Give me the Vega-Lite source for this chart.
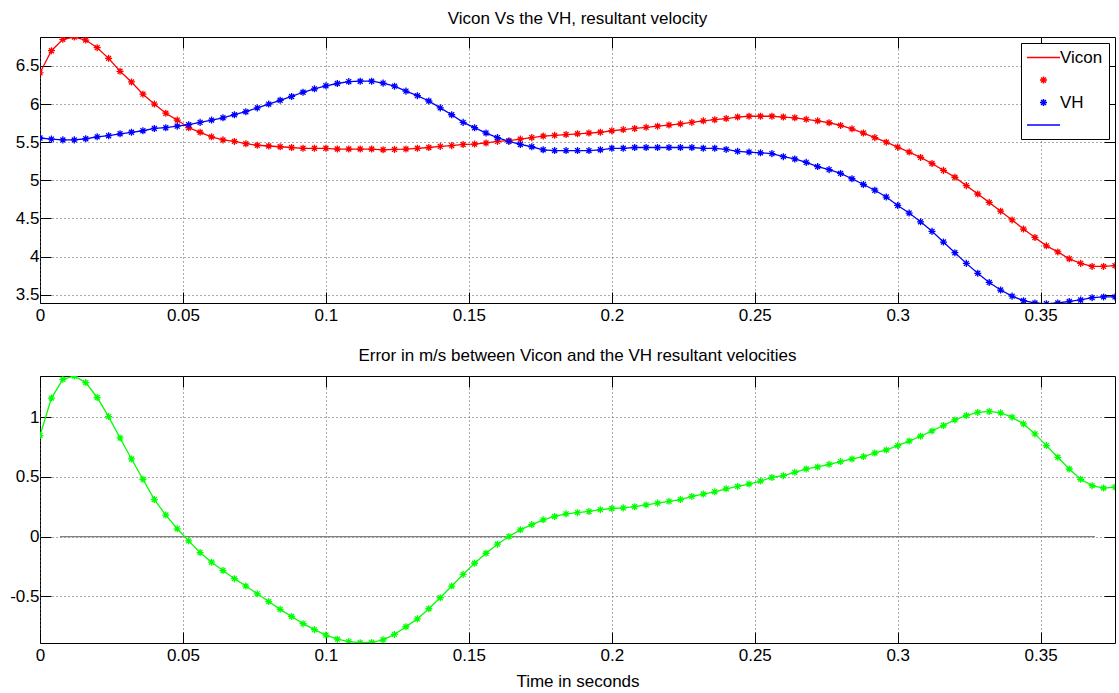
{
  "$schema": "https://vega.github.io/schema/vega-lite/v6.json",
  "padding": {"left": 9, "top": 9, "right": 2, "bottom": 2},
  "background": "white",
  "datasets": {
    "d": [
      {"t":0.000,"vicon":6.41,"vh":5.555,"err":0.846},
      {"t":0.004,"vicon":6.70,"vh":5.54,"err":1.16},
      {"t":0.008,"vicon":6.85,"vh":5.53,"err":1.317},
      {"t":0.012,"vicon":6.88,"vh":5.53,"err":1.345},
      {"t":0.016,"vicon":6.84,"vh":5.545,"err":1.29},
      {"t":0.020,"vicon":6.74,"vh":5.57,"err":1.165},
      {"t":0.024,"vicon":6.60,"vh":5.585,"err":1.005},
      {"t":0.028,"vicon":6.43,"vh":5.61,"err":0.826},
      {"t":0.032,"vicon":6.29,"vh":5.63,"err":0.65},
      {"t":0.036,"vicon":6.13,"vh":5.65,"err":0.48},
      {"t":0.040,"vicon":6.00,"vh":5.68,"err":0.31},
      {"t":0.044,"vicon":5.88,"vh":5.69,"err":0.18},
      {"t":0.048,"vicon":5.79,"vh":5.71,"err":0.065},
      {"t":0.052,"vicon":5.69,"vh":5.73,"err":-0.036},
      {"t":0.056,"vicon":5.63,"vh":5.76,"err":-0.134},
      {"t":0.060,"vicon":5.57,"vh":5.79,"err":-0.215},
      {"t":0.064,"vicon":5.53,"vh":5.82,"err":-0.285},
      {"t":0.068,"vicon":5.51,"vh":5.86,"err":-0.353},
      {"t":0.072,"vicon":5.48,"vh":5.90,"err":-0.415},
      {"t":0.076,"vicon":5.46,"vh":5.95,"err":-0.48},
      {"t":0.080,"vicon":5.45,"vh":6.00,"err":-0.545},
      {"t":0.084,"vicon":5.44,"vh":6.05,"err":-0.61},
      {"t":0.088,"vicon":5.43,"vh":6.10,"err":-0.67},
      {"t":0.092,"vicon":5.42,"vh":6.155,"err":-0.73},
      {"t":0.096,"vicon":5.42,"vh":6.20,"err":-0.78},
      {"t":0.100,"vicon":5.42,"vh":6.24,"err":-0.826},
      {"t":0.104,"vicon":5.41,"vh":6.27,"err":-0.86},
      {"t":0.108,"vicon":5.41,"vh":6.295,"err":-0.88},
      {"t":0.112,"vicon":5.41,"vh":6.30,"err":-0.89},
      {"t":0.116,"vicon":5.41,"vh":6.30,"err":-0.888},
      {"t":0.120,"vicon":5.40,"vh":6.275,"err":-0.865},
      {"t":0.124,"vicon":5.405,"vh":6.235,"err":-0.82},
      {"t":0.128,"vicon":5.41,"vh":6.17,"err":-0.756},
      {"t":0.132,"vicon":5.42,"vh":6.11,"err":-0.69},
      {"t":0.136,"vicon":5.43,"vh":6.04,"err":-0.605},
      {"t":0.140,"vicon":5.445,"vh":5.95,"err":-0.513},
      {"t":0.144,"vicon":5.455,"vh":5.86,"err":-0.415},
      {"t":0.148,"vicon":5.47,"vh":5.76,"err":-0.317},
      {"t":0.152,"vicon":5.475,"vh":5.69,"err":-0.224},
      {"t":0.156,"vicon":5.49,"vh":5.62,"err":-0.14},
      {"t":0.160,"vicon":5.51,"vh":5.56,"err":-0.064},
      {"t":0.164,"vicon":5.52,"vh":5.51,"err":0.0},
      {"t":0.168,"vicon":5.54,"vh":5.47,"err":0.056},
      {"t":0.172,"vicon":5.56,"vh":5.44,"err":0.10},
      {"t":0.176,"vicon":5.58,"vh":5.40,"err":0.14},
      {"t":0.180,"vicon":5.59,"vh":5.39,"err":0.168},
      {"t":0.184,"vicon":5.60,"vh":5.39,"err":0.19},
      {"t":0.188,"vicon":5.61,"vh":5.39,"err":0.20},
      {"t":0.192,"vicon":5.62,"vh":5.39,"err":0.21},
      {"t":0.196,"vicon":5.63,"vh":5.40,"err":0.225},
      {"t":0.200,"vicon":5.65,"vh":5.42,"err":0.235},
      {"t":0.204,"vicon":5.665,"vh":5.42,"err":0.24},
      {"t":0.208,"vicon":5.68,"vh":5.43,"err":0.25},
      {"t":0.212,"vicon":5.695,"vh":5.43,"err":0.265},
      {"t":0.216,"vicon":5.71,"vh":5.43,"err":0.28},
      {"t":0.220,"vicon":5.725,"vh":5.43,"err":0.295},
      {"t":0.224,"vicon":5.74,"vh":5.43,"err":0.31},
      {"t":0.228,"vicon":5.76,"vh":5.43,"err":0.336},
      {"t":0.232,"vicon":5.78,"vh":5.42,"err":0.356},
      {"t":0.236,"vicon":5.795,"vh":5.42,"err":0.375},
      {"t":0.240,"vicon":5.81,"vh":5.405,"err":0.40},
      {"t":0.244,"vicon":5.83,"vh":5.38,"err":0.42},
      {"t":0.248,"vicon":5.84,"vh":5.37,"err":0.44},
      {"t":0.252,"vicon":5.84,"vh":5.36,"err":0.465},
      {"t":0.256,"vicon":5.84,"vh":5.35,"err":0.495},
      {"t":0.260,"vicon":5.83,"vh":5.31,"err":0.51},
      {"t":0.264,"vicon":5.82,"vh":5.28,"err":0.538},
      {"t":0.268,"vicon":5.80,"vh":5.235,"err":0.566},
      {"t":0.272,"vicon":5.78,"vh":5.18,"err":0.583},
      {"t":0.276,"vicon":5.755,"vh":5.14,"err":0.605},
      {"t":0.280,"vicon":5.72,"vh":5.09,"err":0.628},
      {"t":0.284,"vicon":5.675,"vh":5.02,"err":0.65},
      {"t":0.288,"vicon":5.62,"vh":4.945,"err":0.67},
      {"t":0.292,"vicon":5.56,"vh":4.87,"err":0.70},
      {"t":0.296,"vicon":5.50,"vh":4.78,"err":0.725},
      {"t":0.300,"vicon":5.435,"vh":4.67,"err":0.762},
      {"t":0.304,"vicon":5.37,"vh":4.57,"err":0.80},
      {"t":0.308,"vicon":5.30,"vh":4.455,"err":0.84},
      {"t":0.312,"vicon":5.22,"vh":4.33,"err":0.885},
      {"t":0.316,"vicon":5.13,"vh":4.19,"err":0.93},
      {"t":0.320,"vicon":5.04,"vh":4.05,"err":0.977},
      {"t":0.324,"vicon":4.93,"vh":3.91,"err":1.014},
      {"t":0.328,"vicon":4.82,"vh":3.78,"err":1.04},
      {"t":0.332,"vicon":4.71,"vh":3.66,"err":1.048},
      {"t":0.336,"vicon":4.595,"vh":3.56,"err":1.036},
      {"t":0.340,"vicon":4.48,"vh":3.48,"err":1.0},
      {"t":0.344,"vicon":4.36,"vh":3.42,"err":0.944},
      {"t":0.348,"vicon":4.25,"vh":3.39,"err":0.86},
      {"t":0.352,"vicon":4.14,"vh":3.38,"err":0.762},
      {"t":0.356,"vicon":4.06,"vh":3.39,"err":0.664},
      {"t":0.360,"vicon":3.97,"vh":3.41,"err":0.566},
      {"t":0.364,"vicon":3.91,"vh":3.43,"err":0.48},
      {"t":0.368,"vicon":3.87,"vh":3.46,"err":0.426},
      {"t":0.372,"vicon":3.87,"vh":3.47,"err":0.406},
      {"t":0.376,"vicon":3.88,"vh":3.47,"err":0.414}
    ]
  },
  "config": {
    "font": "Liberation Sans",
    "view": {"stroke": "#000", "strokeWidth": 1},
    "axis": {
      "domain": false,
      "tickColor": "#000",
      "tickWidth": 1,
      "tickSize": -11,
      "labelFontSize": 17,
      "labelColor": "#000",
      "labelFont": "Liberation Sans",
      "labelFlush": false,
      "labelOverlap": false,
      "gridColor": "#555",
      "gridDash": [1, 3],
      "gridWidth": 1,
      "titleFont": "Liberation Sans",
      "titleFontSize": 17,
      "titleFontWeight": "normal",
      "titleColor": "#000"
    },
    "title": {"font": "Liberation Sans", "fontSize": 17, "fontWeight": "normal", "color": "#000", "offset": 11}
  },
  "spacing": 22,
  "resolve": {"legend": {"color": "independent", "shape": "independent"}, "scale": {"color": "independent", "shape": "independent"}},
  "vconcat": [
    {
      "width": 1075,
      "height": 266,
      "title": {"text": "Vicon Vs the VH, resultant velocity", "offset": 9},
      "data": {"name": "d"},
      "transform": [{"fold": ["vicon", "vh"], "as": ["series", "v"]}],
      "layer": [
        {
          "transform": [{"calculate": "datum.series == 'vicon' ? 'Vicon' : 'VH line'", "as": "lk"}],
          "mark": {"type": "line", "strokeWidth": 1.3, "clip": true},
          "encoding": {
            "x": {"field": "t", "type": "quantitative",
                  "scale": {"domain": [0, 0.376], "nice": false, "zero": false},
                  "axis": {"orient": "bottom", "values": [0, 0.05, 0.1, 0.15, 0.2, 0.25, 0.3, 0.35], "labelExpr": "'' + datum.value", "title": null, "grid": true, "labelPadding": 15}},
            "y": {"field": "v", "type": "quantitative",
                  "scale": {"domain": [3.39, 6.88], "nice": false, "zero": false},
                  "axis": {"orient": "left", "values": [3.5, 4, 4.5, 5, 5.5, 6, 6.5], "labelExpr": "'' + datum.value", "title": null, "grid": true, "labelPadding": 12}},
            "color": {"field": "lk", "type": "nominal",
                      "scale": {"domain": ["Vicon", "Vicon marker", "VH", "VH line"], "range": ["#ff0000", "#ff0000", "#0000ff", "#0000ff"]},
                      "legend": {"title": null, "orient": "top-right", "offset": 6, "padding": 6, "strokeColor": "#000", "fillColor": "#fff", "labelFontSize": 17, "labelColor": "#000", "labelFont": "Liberation Sans", "symbolSize": 121, "symbolStrokeWidth": 1.5, "symbolOffset": 8, "labelOffset": 8, "rowPadding": 4.5, "labelExpr": "datum.label == 'Vicon' || datum.label == 'VH' ? datum.label : ''"}}
          }
        },
        {
          "transform": [{"calculate": "datum.series == 'vicon' ? 'Vicon marker' : 'VH'", "as": "lk"}],
          "mark": {"type": "point", "filled": false, "size": 121, "strokeWidth": 1.3, "opacity": 1, "clip": true},
          "encoding": {
            "x": {"field": "t", "type": "quantitative",
                  "scale": {"domain": [0, 0.376], "nice": false, "zero": false},
                  "axis": {"orient": "top", "values": [0, 0.05, 0.1, 0.15, 0.2, 0.25, 0.3, 0.35], "labels": false, "title": null, "grid": false}},
            "y": {"field": "v", "type": "quantitative",
                  "scale": {"domain": [3.39, 6.88], "nice": false, "zero": false},
                  "axis": {"orient": "right", "values": [3.5, 4, 4.5, 5, 5.5, 6, 6.5], "labels": false, "title": null, "grid": false}},
            "color": {"field": "lk", "type": "nominal",
                      "scale": {"domain": ["Vicon", "Vicon marker", "VH", "VH line"], "range": ["#ff0000", "#ff0000", "#0000ff", "#0000ff"]},
                      "legend": {"title": null, "orient": "top-right", "offset": 6, "padding": 6, "strokeColor": "#000", "fillColor": "#fff", "labelFontSize": 17, "labelColor": "#000", "labelFont": "Liberation Sans", "symbolSize": 121, "symbolStrokeWidth": 1.5, "symbolOffset": 8, "labelOffset": 8, "rowPadding": 4.5, "labelExpr": "datum.label == 'Vicon' || datum.label == 'VH' ? datum.label : ''"}},
            "shape": {"field": "lk", "type": "nominal",
                      "scale": {"domain": ["Vicon", "Vicon marker", "VH", "VH line"], "range": ["M-3,0H3", "M-0.64,0H0.64M0,-0.64V0.64M-0.45,-0.45L0.45,0.45M-0.45,0.45L0.45,-0.45", "M-0.64,0H0.64M0,-0.64V0.64M-0.45,-0.45L0.45,0.45M-0.45,0.45L0.45,-0.45", "M-3,0H3"]},
                      "legend": {"title": null, "orient": "top-right", "offset": 6, "padding": 6, "strokeColor": "#000", "fillColor": "#fff", "labelFontSize": 17, "labelColor": "#000", "labelFont": "Liberation Sans", "symbolSize": 121, "symbolStrokeWidth": 1.5, "symbolOffset": 8, "labelOffset": 8, "rowPadding": 4.5, "labelExpr": "datum.label == 'Vicon' || datum.label == 'VH' ? datum.label : ''"}}
          }
        }
      ],
      "resolve": {"axis": {"x": "independent", "y": "independent"}}
    },
    {
      "width": 1075,
      "height": 267,
      "title": {"text": "Error in m/s between Vicon and the VH resultant velocities", "offset": 11},
      "layer": [
        {
          "data": {"values": [{"xa": 0.007, "xb": 0.369, "yz": 0}]},
          "mark": {"type": "rule", "color": "#808080", "strokeWidth": 1.3},
          "encoding": {
            "x": {"field": "xa", "type": "quantitative",
                  "scale": {"domain": [0, 0.376], "nice": false, "zero": false},
                  "axis": {"orient": "bottom", "values": [0, 0.05, 0.1, 0.15, 0.2, 0.25, 0.3, 0.35], "labelExpr": "'' + datum.value", "title": "Time in seconds", "titlePadding": 10, "grid": true, "labelPadding": 15}},
            "x2": {"field": "xb"},
            "y": {"field": "yz", "type": "quantitative",
                  "scale": {"domain": [-0.892, 1.345], "nice": false, "zero": false},
                  "axis": {"orient": "left", "values": [-0.5, 0, 0.5, 1], "labelExpr": "'' + datum.value", "title": null, "grid": true, "labelPadding": 12}}
          }
        },
        {
          "data": {"name": "d"},
          "mark": {"type": "line", "color": "#00ff00", "strokeWidth": 1.3, "clip": true},
          "encoding": {
            "x": {"field": "t", "type": "quantitative",
                  "scale": {"domain": [0, 0.376], "nice": false, "zero": false},
                  "axis": {"orient": "top", "values": [0, 0.05, 0.1, 0.15, 0.2, 0.25, 0.3, 0.35], "labels": false, "title": null, "grid": false}},
            "y": {"field": "err", "type": "quantitative",
                  "scale": {"domain": [-0.892, 1.345], "nice": false, "zero": false},
                  "axis": {"orient": "right", "values": [-0.5, 0, 0.5, 1], "labels": false, "title": null, "grid": false}}
          }
        },
        {
          "data": {"name": "d"},
          "mark": {"type": "point", "color": "#00ff00", "filled": false, "size": 121, "strokeWidth": 1.3, "opacity": 1, "clip": true, "shape": "M-0.64,0H0.64M0,-0.64V0.64M-0.45,-0.45L0.45,0.45M-0.45,0.45L0.45,-0.45"},
          "encoding": {
            "x": {"field": "t", "type": "quantitative", "scale": {"domain": [0, 0.376], "nice": false, "zero": false}, "axis": null},
            "y": {"field": "err", "type": "quantitative", "scale": {"domain": [-0.892, 1.345], "nice": false, "zero": false}, "axis": null}
          }
        }
      ],
      "resolve": {"axis": {"x": "independent", "y": "independent"}}
    }
  ]
}
